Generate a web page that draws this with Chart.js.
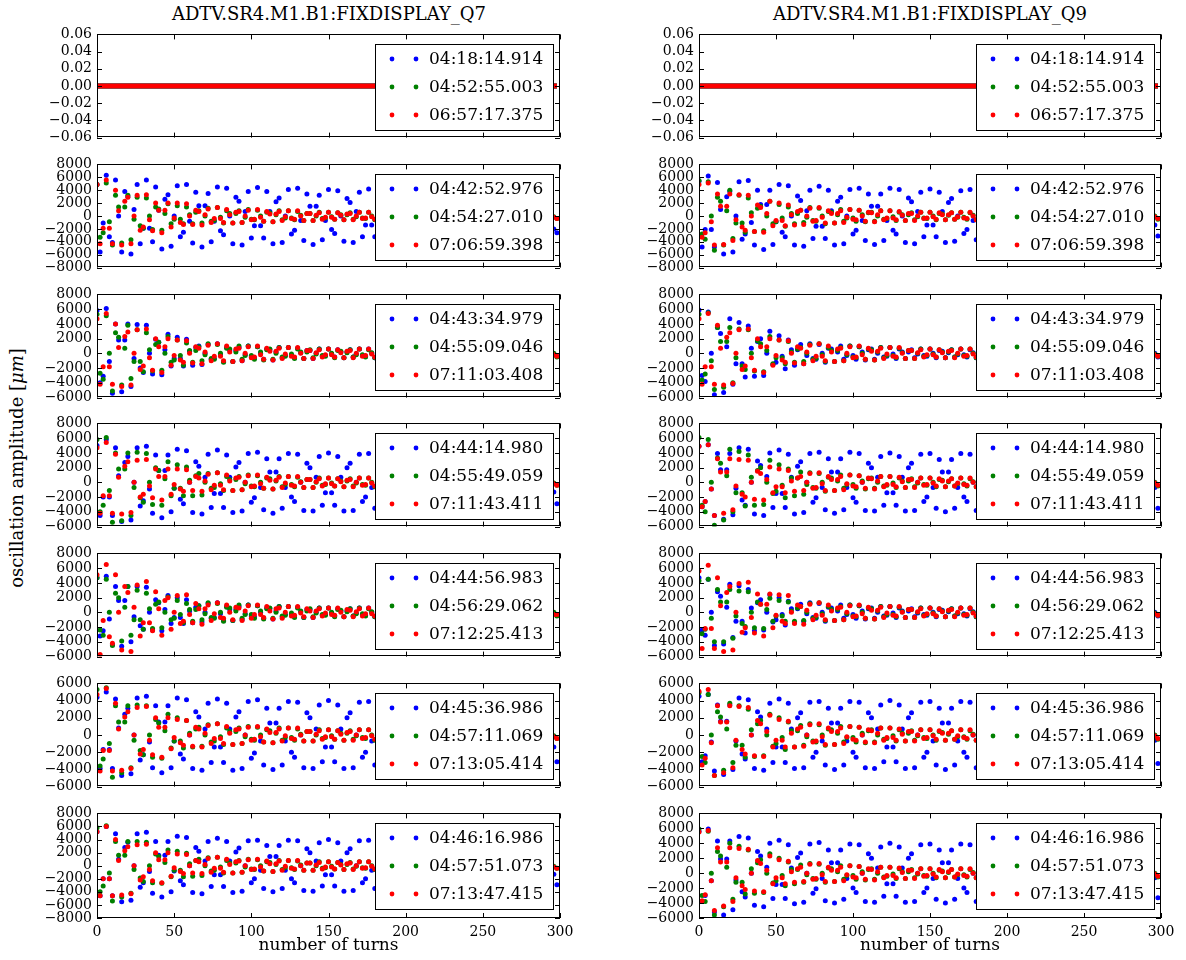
<!DOCTYPE html>
<html lang="en">
<head>
<meta charset="UTF-8">
<title>FIXDISPLAY Q7 / Q9 turn-by-turn oscillation</title>
<script src="https://cdn.jsdelivr.net/npm/chart.js"></script>
<style>
  body { margin: 0; background: #fff; }
  #page { position: relative; width: 1186px; height: 960px; overflow: hidden; font-family: 'DejaVu Serif', serif; color: #000; }
  .panel { position: absolute; }
  .panel canvas { display: block; }
  .coltitle { position: absolute; top: 3px; font-size: 18px; white-space: nowrap; transform: translateX(-50%); }
  #ylabel {
    position: absolute; left: 16px; top: 468px;
    transform: translate(-50%, -50%) rotate(-90deg);
    white-space: nowrap; font-size: 18px;
  }
</style>
</head>
<body>
<div id="page">
  <div class="coltitle" style="left:329px">ADTV.SR4.M1.B1:FIXDISPLAY_Q7</div>
  <div class="coltitle" style="left:930px">ADTV.SR4.M1.B1:FIXDISPLAY_Q9</div>
  <div id="ylabel">oscillation amplitude [<i>μm</i>]</div>
</div>

<script>
// turn number of every stored sample (every second turn)
const turns = [0,2,4,6,8,10,12,14,16,18,20,22,24,26,28,30,32,34,36,38,40,42,44,46,48,50,52,54,56,58,
  60,62,64,66,68,70,72,74,76,78,80,82,84,86,88,90,92,94,96,98,100,102,104,106,108,110,112,114,116,118,
  120,122,124,126,128,130,132,134,136,138,140,142,144,146,148,150,152,154,156,158,160,162,164,166,168,170,172,174,176,178,
  180,182,184,186,188,190,192,194,196,198,200,202,204,206,208,210,212,214,216,218,220,222,224,226,228,230,232,234,236,238,
  240,242,244,246,248,250,252,254,256,258,260,262,264,266,268,270,272,274,276,278,280,282,284,286,288,290,292,294,296,298];

// amplitudes are stored in units of 100 µm
const SCALE = 100;

// reference shots: no kick, the BPM reads zero on every turn
const flatTrace = [0,0,0,0,0,0,0,0,0,0,0,0,0,0,0,0,0,0,0,0,0,0,0,0,0,0,0,0,0,0,
  0,0,0,0,0,0,0,0,0,0,0,0,0,0,0,0,0,0,0,0,0,0,0,0,0,0,0,0,0,0,
  0,0,0,0,0,0,0,0,0,0,0,0,0,0,0,0,0,0,0,0,0,0,0,0,0,0,0,0,0,0,
  0,0,0,0,0,0,0,0,0,0,0,0,0,0,0,0,0,0,0,0,0,0,0,0,0,0,0,0,0,0,
  0,0,0,0,0,0,0,0,0,0,0,0,0,0,0,0,0,0,0,0,0,0,0,0,0,0,0,0,0,0];

// slow tail of the decoherence, turns 72..142, for the four phase families P/Q/R/S
const decayP = [13,-7,-8,12,0,-12, 7,6,-11,2,10,-8, -3,10,-3,-8,9,2, -9,5,6,-8,0,8, -5,-4,8,-1,-7,6, 2,-7,2,5,-6,-1];
const decayQ = [12,-8,-7,13,-2,-11, 8,4,-11,4,8,-10, -2,10,-5,-6,9,0, -8,6,5,-9,2,8, -6,-3,8,-3,-6,7, 1,-7,4,4,-7,0];
const decayR = [11,-10,-4,13,-4,-10, 10,2,-11,6,7,-10, 0,9,-6,-5,10,-2, -8,7,3,-9,3,7, -7,-1,8,-4,-5,8, 0,-7,4,4,-7,1];
const decayS = [10,-11,-2,13,-7,-8, 10,0,-10,7,6,-11, 2,9,-8,-3,10,-3, -7,8,2,-9,5,6, -8,0,8,-5,-4,8, -1,-6,5,2,-7,2];

// residual wiggle once the kicked beam has decohered, turns 144..298
const residualP = [6,-3,-4,6,0,-6, 4,3,-6,1,5,-5, -2,6,-2,-5,5,1, -6,3,4,-6,0,6, -4,-3,6,-1,-5,5, 2,-6,2,5,-5,-1,
  5,-3,-3,5,0,-5, 3,3,-5,1,4,-4, -2,5,-2,-4,4,1, -5,3,3,-5,0,5, -3,-3,5,-1,-4,4, 2,-5,2,4,-4,-1,
  5,-3,-3,5,0,-5];
const residualQ = [6,-4,-3,6,-1,-5, 5,2,-6,2,5,-5, -1,6,-3,-4,6,0, -6,4,3,-6,1,5, -5,-2,6,-2,-5,5, 1,-6,3,4,-6,0,
  5,-3,-3,5,-1,-4, 4,2,-5,2,4,-4, -1,5,-3,-3,5,0, -5,3,3,-5,1,4, -4,-2,5,-2,-4,4, 1,-5,3,3,-5,0,
  5,-3,-3,5,-1,-4];
const residualR = [5,-5,-2,6,-2,-5, 5,1,-6,3,4,-6, 0,6,-4,-3,6,-1, -5,5,2,-6,2,5, -5,-1,6,-3,-4,6, 0,-6,4,3,-6,1,
  4,-4,-2,5,-2,-4, 4,1,-5,3,3,-5, 0,5,-3,-3,5,-1, -4,4,2,-5,2,4, -4,-1,5,-3,-3,5, 0,-5,3,3,-5,1,
  4,-4,-2,5,-2,-4];
const residualS = [5,-5,-1,6,-3,-4, 6,0,-6,4,3,-6, 1,5,-5,-2,6,-2, -5,5,1,-6,3,4, -6,0,6,-4,-3,6, -1,-5,5,2,-6,2,
  4,-4,-1,5,-3,-3, 5,0,-5,3,3,-5, 1,4,-4,-2,5,-2, -4,4,1,-5,3,3, -5,0,5,-3,-3,5, -1,-4,4,2,-5,2,
  4,-4,-1,5,-3,-3];

// ---- Q7 ----
const q7r2Blue = [49,-56,-11,63,-32,-41, 56,0,-56,38,30,-59, 10,49,-43,-19,56,-19, -40,45,9,-51,26,33, -47,0,47,-32,-25,49, -8,-42,37,16,-48,16,
  35,-40,-8,45,-23,-29, 43,0,-43,29,23,-45, 7,38,-34,-15,44,-15, -34,38,7,-43,22,28, -41,0,41,-28,-22,43, -7,-38,34,15,-44,15,
  32,-37,-7,41,-21,-27, 39,0,-39,27,21,-41, 7,37,-32,-14,42,-14, -32,37,7,-41,21,27, -39,0,39,-27,-21,41, -7,-37,32,14,-42,14,
  32,-37,-7,41,-21,-27, 39,0,-39,27,21,-41, 7,37,-32,-14,42,-14, -31,35,7,-39,20,26, -38,0,38,-26,-20,39, -7,-35,31,14,-40,14,
  31,-35,-7,39,-20,-26];
const q7r2Green = [49,-33,-26,51,-9,-45, 32,14,-42,14,32,-37, -5,29,-15,-19,28,0, -21,14,11,-22,4,19, -12,-5,16,-5,-12,14, 2,-12,6,8,-11,0,
  ...decayQ, ...residualQ];
const q7r2Red = [49,-43,-19,56,-19,-43, 40,8,-45,23,29,-43, 0,32,-22,-17,33,-6, -23,20,9,-26,9,20, -17,-3,20,-10,-13,19, 0,-13,9,7,-14,2,
  ...decayR, ...residualR];

const q7r3Blue = [58,-40,-31,61,-11,-54, 40,18,-52,18,40,-45, -7,39,-20,-26,38,0, -28,19,15,-29,5,26, -17,-7,22,-7,-17,19, 3,-16,8,10,-15,0,
  ...decayQ, ...residualQ];
const q7r3Green = [53,-27,-35,51,0,-51, 28,22,-43,7,38,-34, -11,32,-11,-25,28,5, -24,12,15,-23,0,23, -12,-9,18,-3,-16,14, 4,-12,4,9,-10,-2,
  ...decayP, ...residualP];
const q7r3Red = [47,-42,-18,54,-18,-42, 40,8,-45,23,29,-43, 0,32,-22,-17,33,-6, -23,20,9,-26,9,20, -16,-3,18,-9,-12,17, 0,-13,9,7,-14,2,
  ...decayR, ...residualR];

const q7r4Blue = [50,-45,-20,58,-20,-45, 47,9,-53,27,35,-51, 0,47,-32,-25,49,-9, -42,37,16,-48,16,37, -40,-8,45,-23,-29,43, 0,-41,28,22,-43,7,
  38,-34,-15,44,-15,-34, 37,7,-41,21,27,-39, 0,39,-27,-21,41,-7, -37,32,14,-42,14,32, -35,-7,39,-20,-26,38, 0,-38,26,20,-39,7,
  35,-31,-14,40,-14,-31, 35,7,-39,20,26,-38, 0,38,-26,-20,39,-7, -35,31,14,-40,14,31, -35,-7,39,-20,-26,38, 0,-38,26,20,-39,7,
  33,-29,-13,38,-13,-29, 33,6,-37,19,24,-36, 0,36,-24,-19,37,-6, -33,29,13,-38,13,29, -33,-6,37,-19,-24,36, 0,-36,24,19,-37,6,
  33,-29,-13,38,-13,-29];
const q7r4Green = [58,-40,-31,61,-11,-54, 40,18,-52,18,40,-45, -7,41,-21,-27,39,0, -30,20,16,-31,5,28, -18,-8,24,-8,-18,21, 3,-18,9,12,-17,0,
  ...decayQ, ...residualQ];
const q7r4Red = [47,-42,-18,54,-18,-42, 38,7,-43,22,28,-41, 0,30,-20,-16,31,-5, -21,18,8,-24,8,18, -16,-3,18,-9,-12,17, 0,-11,8,6,-12,2,
  ...decayR, ...residualR];

const q7r5Blue = [47,-32,-25,49,-9,-44, 35,16,-46,16,35,-40, -6,35,-18,-23,34,0, -24,17,13,-25,4,23, -15,-7,20,-7,-15,17, 2,-14,7,9,-13,0,
  ...decayQ, ...residualQ];
const q7r5Green = [47,-24,-31,45,0,-45, 26,20,-39,7,35,-31, -10,30,-10,-23,26,5, -22,11,14,-21,0,21, -10,-8,16,-3,-14,12, 4,-12,4,9,-10,-2,
  ...decayP, ...residualP];
const q7r5Red = [51,-57,-11,65,-33,-42, 51,0,-51,35,27,-53, 7,37,-32,-14,42,-14, -25,28,5,-31,16,20, -23,0,23,-15,-12,24, -3,-14,12,5,-16,5,
  ...decayS, ...residualS];

const q7r6Blue = [44,-39,-17,50,-17,-39, 42,8,-47,24,31,-45, 0,43,-29,-23,45,-8, -38,34,15,-44,15,34, -38,-7,43,-22,-28,41, 0,-39,27,21,-41,7,
  37,-32,-14,42,-14,-32, 37,7,-41,21,27,-39, 0,39,-27,-21,41,-7, -35,31,14,-40,14,31, -35,-7,39,-20,-26,38, 0,-38,26,20,-39,7,
  35,-31,-14,40,-14,-31, 35,7,-39,20,26,-38, 0,38,-26,-20,39,-7, -35,31,14,-40,14,31, -35,-7,39,-20,-26,38, 0,-38,26,20,-39,7,
  35,-31,-14,40,-14,-31, 35,7,-39,20,26,-38, 0,38,-26,-20,39,-7, -35,31,14,-40,14,31, -35,-7,39,-20,-26,38, 0,-38,26,20,-39,7,
  35,-31,-14,40,-14,-31];
const q7r6Green = [53,-36,-28,55,-10,-49, 34,15,-44,15,34,-38, -6,35,-18,-23,34,0, -26,18,14,-27,5,24, -15,-7,20,-7,-15,17, 2,-14,7,9,-13,0,
  ...decayQ, ...residualQ];
const q7r6Red = [47,-42,-18,54,-18,-42, 37,7,-41,21,27,-39, 0,32,-22,-17,33,-6, -23,20,9,-26,9,20, -16,-3,18,-9,-12,17, 0,-13,9,7,-14,2,
  ...decayR, ...residualR];

const q7r7Blue = [52,-46,-20,60,-20,-46, 49,10,-55,28,36,-53, 0,49,-33,-26,51,-9, -42,37,16,-48,16,37, -40,-8,45,-23,-29,43, 0,-41,28,22,-43,7,
  37,-32,-14,42,-14,-32, 37,7,-41,21,27,-39, 0,38,-26,-20,39,-7, -35,31,14,-40,14,31, -35,-7,39,-20,-26,38, 0,-38,26,20,-39,7,
  35,-31,-14,40,-14,-31, 35,7,-39,20,26,-38, 0,38,-26,-20,39,-7, -35,31,14,-40,14,31, -35,-7,39,-20,-26,38, 0,-36,24,19,-37,6,
  33,-29,-13,38,-13,-29, 33,6,-37,19,24,-36, 0,36,-24,-19,37,-6, -33,29,13,-38,13,29, -33,-6,37,-19,-24,36, 0,-36,24,19,-37,6,
  33,-29,-13,38,-13,-29];
const q7r7Green = [58,-40,-31,61,-11,-54, 37,16,-48,16,37,-42, -6,37,-19,-24,36,0, -26,18,14,-27,5,24, -17,-7,22,-7,-17,19, 3,-16,8,10,-15,0,
  ...decayQ, ...residualQ];
const q7r7Red = [52,-46,-20,60,-20,-46, 40,8,-45,23,29,-43, 0,32,-22,-17,33,-6, -23,20,9,-26,9,20, -16,-3,18,-9,-12,17, 0,-11,8,6,-12,2,
  ...decayR, ...residualR];

// ---- Q9 ----
const q9r2Blue = [54,-48,-21,62,-21,-48, 52,10,-59,30,38,-56, 0,53,-36,-28,55,-10, -45,40,18,-52,18,40, -44,-9,49,-25,-32,47, 0,-45,31,24,-47,8,
  40,-35,-16,46,-16,-35, 40,8,-45,23,29,-43, 0,41,-28,-22,43,-7, -38,34,15,-44,15,34, -38,-7,43,-22,-28,41, 0,-41,28,22,-43,7,
  37,-32,-14,42,-14,-32, 37,7,-41,21,27,-39, 0,39,-27,-21,41,-7, -37,32,14,-42,14,32, -37,-7,41,-21,-27,39, 0,-39,27,21,-41,7,
  37,-32,-14,42,-14,-32, 37,7,-41,21,27,-39, 0,39,-27,-21,41,-7, -35,31,14,-40,14,31, -35,-7,39,-20,-26,38, 0,-38,26,20,-39,7,
  35,-31,-14,40,-14,-31];
const q9r2Green = [55,-28,-36,53,0,-53, 29,23,-45,8,40,-35, -11,32,-11,-25,28,5, -24,12,15,-23,0,23, -12,-9,18,-3,-16,14, 4,-12,4,9,-10,-2,
  ...decayP, ...residualP];
const q9r2Red = [49,-33,-26,51,-9,-45, 34,15,-44,15,34,-38, -6,33,-17,-22,32,0, -24,17,13,-25,4,23, -15,-7,20,-7,-15,17, 2,-14,7,9,-13,0,
  ...decayQ, ...residualQ];

const q9r3Blue = [59,-30,-38,56,0,-56, 35,27,-53,9,47,-42, -14,42,-14,-32,37,7, -31,16,20,-30,0,30, -15,-12,24,-4,-21,18, 5,-16,5,12,-14,-3,
  ...decayP, ...residualP];
const q9r3Green = [53,-36,-28,55,-10,-49, 35,16,-46,16,35,-40, -6,33,-17,-22,32,0, -24,17,13,-25,4,23, -14,-6,18,-6,-14,16, 2,-12,6,8,-11,0,
  ...decayQ, ...residualQ];
const q9r3Red = [47,-42,-18,54,-18,-42, 38,7,-43,22,28,-41, 0,32,-22,-17,33,-6, -23,20,9,-26,9,20, -16,-3,18,-9,-12,17, 0,-13,9,7,-14,2,
  ...decayR, ...residualR];

const q9r4Blue = [49,-33,-26,51,-9,-45, 39,17,-50,17,39,-44, -8,47,-24,-31,45,0, -43,29,23,-45,8,40, -34,-15,44,-15,-34,38, 7,-43,22,28,-41,0,
  39,-27,-21,41,-7,-37, 32,14,-42,14,32,-37, -7,41,-21,-27,39,0, -38,26,20,-39,7,35, -31,-14,40,-14,-31,35, 7,-39,20,26,-38,0,
  38,-26,-20,39,-7,-35, 31,14,-40,14,31,-35, -7,39,-20,-26,38,0, -38,26,20,-39,7,35, -31,-14,40,-14,-31,35, 7,-39,20,26,-38,0,
  38,-26,-20,39,-7,-35, 31,14,-40,14,31,-35, -7,39,-20,-26,38,0, -38,26,20,-39,7,35, -31,-14,40,-14,-31,35, 7,-39,20,26,-38,0,
  38,-26,-20,39,-7,-35];
const q9r4Green = [61,-31,-40,58,0,-58, 33,26,-51,9,45,-40, -14,42,-14,-32,37,7, -31,16,20,-30,0,30, -15,-12,24,-4,-21,18, 6,-18,6,14,-16,-3,
  ...decayP, ...residualP];
const q9r4Red = [49,-33,-26,51,-9,-45, 32,14,-42,14,32,-37, -5,31,-16,-20,30,0, -23,15,12,-24,4,21, -14,-6,18,-6,-14,16, 2,-12,6,8,-11,0,
  ...decayQ, ...residualQ];

const q9r5Blue = [47,-24,-31,45,0,-45, 28,22,-43,7,38,-34, -12,36,-12,-28,31,6, -25,13,17,-24,0,24, -13,-10,20,-3,-17,15, 5,-14,5,11,-12,-2,
  ...decayP, ...residualP];
const q9r5Green = [43,-29,-23,45,-8,-40, 31,14,-40,14,31,-35, -5,29,-15,-19,28,0, -21,14,11,-22,4,19, -12,-5,16,-5,-12,14, 2,-12,6,8,-11,0,
  ...decayQ, ...residualQ];
const q9r5Red = [56,-49,-22,64,-22,-49, 47,9,-53,27,35,-51, 0,39,-27,-21,41,-7, -28,25,11,-32,11,25, -21,-4,24,-12,-15,23, 0,-15,10,8,-16,3,
  ...decayR, ...residualR];

const q9r6Blue = [45,-31,-24,47,-8,-42, 35,16,-46,16,35,-40, -7,43,-22,-28,41,0, -39,27,21,-41,7,37, -32,-14,42,-14,-32,37, 7,-39,20,26,-38,0,
  38,-26,-20,39,-7,-35, 31,14,-40,14,31,-35, -7,39,-20,-26,38,0, -38,26,20,-39,7,35, -31,-14,40,-14,-31,35, 7,-39,20,26,-38,0,
  38,-26,-20,39,-7,-35, 31,14,-40,14,31,-35, -7,39,-20,-26,38,0, -38,26,20,-39,7,35, -31,-14,40,-14,-31,35, 7,-39,20,26,-38,0,
  36,-24,-19,37,-6,-33, 29,13,-38,13,29,-33, -6,37,-19,-24,36,0, -36,24,19,-37,6,33, -29,-13,38,-13,-29,33, 6,-37,19,24,-36,0,
  36,-24,-19,37,-6,-33];
const q9r6Green = [49,-25,-32,47,0,-47, 27,21,-41,7,37,-32, -12,34,-12,-26,30,6, -25,13,17,-24,0,24, -13,-10,20,-3,-17,15, 5,-14,5,11,-12,-2,
  ...decayP, ...residualP];
const q9r6Red = [51,-35,-27,53,-9,-47, 34,15,-44,15,34,-38, -6,33,-17,-22,32,0, -24,17,13,-25,4,23, -14,-6,18,-6,-14,16, 2,-14,7,9,-13,0,
  ...decayQ, ...residualQ];

const q9r7Blue = [56,-38,-30,59,-10,-52, 43,19,-56,19,43,-49, -9,49,-25,-32,47,0, -43,29,23,-45,8,40, -34,-15,44,-15,-34,38, 7,-41,21,27,-39,0,
  39,-27,-21,41,-7,-37, 31,14,-40,14,31,-35, -7,39,-20,-26,38,0, -38,26,20,-39,7,35, -31,-14,40,-14,-31,35, 7,-39,20,26,-38,0,
  38,-26,-20,39,-7,-35, 31,14,-40,14,31,-35, -7,39,-20,-26,38,0, -38,26,20,-39,7,35, -31,-14,40,-14,-31,35, 6,-37,19,24,-36,0,
  36,-24,-19,37,-6,-33, 29,13,-38,13,29,-33, -6,37,-19,-24,36,0, -36,24,19,-37,6,33, -29,-13,38,-13,-29,33, 6,-37,19,24,-36,0,
  36,-24,-19,37,-6,-33];
const q9r7Green = [59,-30,-38,56,0,-56, 29,23,-45,8,40,-35, -12,36,-12,-28,31,6, -27,14,18,-26,0,26, -13,-10,20,-3,-17,15, 5,-14,5,11,-12,-2,
  ...decayP, ...residualP];
const q9r7Red = [55,-37,-29,57,-10,-50, 34,15,-44,15,34,-38, -6,33,-17,-22,32,0, -24,17,13,-25,4,23, -14,-6,18,-6,-14,16, 2,-12,6,8,-11,0,
  ...decayQ, ...residualQ];

// acquisition time stamps (legend), same shots on both monitors
const stamps = [
  ['04:18:14.914', '04:52:55.003', '06:57:17.375'],
  ['04:42:52.976', '04:54:27.010', '07:06:59.398'],
  ['04:43:34.979', '04:55:09.046', '07:11:03.408'],
  ['04:44:14.980', '04:55:49.059', '07:11:43.411'],
  ['04:44:56.983', '04:56:29.062', '07:12:25.413'],
  ['04:45:36.986', '04:57:11.069', '07:13:05.414'],
  ['04:46:16.986', '04:57:51.073', '07:13:47.415']
];

// y ranges per row
const q7Ranges = [[-0.06, 0.06], [-8000, 8000], [-6000, 8000], [-6000, 8000], [-6000, 8000], [-6000, 6000], [-8000, 8000]];
const q9Ranges = [[-0.06, 0.06], [-8000, 8000], [-6000, 8000], [-6000, 8000], [-6000, 8000], [-6000, 6000], [-6000, 8000]];

const q7Traces = [
  [flatTrace, flatTrace, flatTrace],
  [q7r2Blue, q7r2Green, q7r2Red],
  [q7r3Blue, q7r3Green, q7r3Red],
  [q7r4Blue, q7r4Green, q7r4Red],
  [q7r5Blue, q7r5Green, q7r5Red],
  [q7r6Blue, q7r6Green, q7r6Red],
  [q7r7Blue, q7r7Green, q7r7Red]
];
const q9Traces = [
  [flatTrace, flatTrace, flatTrace],
  [q9r2Blue, q9r2Green, q9r2Red],
  [q9r3Blue, q9r3Green, q9r3Red],
  [q9r4Blue, q9r4Green, q9r4Red],
  [q9r5Blue, q9r5Green, q9r5Red],
  [q9r6Blue, q9r6Green, q9r6Red],
  [q9r7Blue, q9r7Green, q9r7Red]
];

const COLORS = ['#0000ff', '#008000', '#ff0000'];
const X_TICKS = [0, 50, 100, 150, 200, 250, 300];
const PLOT_TOPS = [33, 163, 293, 422, 552, 682, 812];
const PLOT_H = 106;
const FONT = 'DejaVu Serif';

const columns = [
  { left: 0, width: 580, axis: 97, padRight: 20, traces: q7Traces, ranges: q7Ranges },
  { left: 600, width: 586, axis: 99, padRight: 25, traces: q9Traces, ranges: q9Ranges }
];

Chart.defaults.font.family = FONT;
Chart.defaults.color = '#000';

// axes frame, inward ticks on all four sides, and the boxed legend in the upper right
const framePlugin = {
  id: 'frame',
  afterDatasetsDraw(chart, args, opts) {
    const { ctx, chartArea: a, scales: { x, y } } = chart;
    const t = 5;
    ctx.save();
    ctx.strokeStyle = '#000';
    ctx.lineWidth = 1;
    ctx.beginPath();
    X_TICKS.forEach(v => {
      const px = Math.round(x.getPixelForValue(v)) + 0.5;
      ctx.moveTo(px, a.bottom); ctx.lineTo(px, a.bottom - t);
      ctx.moveTo(px, a.top); ctx.lineTo(px, a.top + t);
    });
    y.ticks.forEach(tk => {
      const py = Math.round(y.getPixelForValue(tk.value)) + 0.5;
      ctx.moveTo(a.left, py); ctx.lineTo(a.left + t, py);
      ctx.moveTo(a.right, py); ctx.lineTo(a.right - t, py);
    });
    ctx.stroke();
    ctx.strokeRect(Math.round(a.left) + 0.5, Math.round(a.top) + 0.5,
                   Math.round(a.width) - 1, Math.round(a.height) - 1);

    // legend
    const bw = 178, bh = 86;
    const bx = Math.round(a.right) - 7 - bw;
    const by = Math.round(a.top) + 10;
    ctx.fillStyle = '#fff';
    ctx.fillRect(bx, by, bw, bh);
    ctx.strokeRect(bx + 0.5, by + 0.5, bw, bh);
    ctx.font = '17px "' + FONT + '"';
    ctx.textBaseline = 'middle';
    opts.labels.forEach((lab, i) => {
      const cy = by + 15 + i * 28;
      ctx.fillStyle = COLORS[i];
      [17, 41].forEach(dx => {
        ctx.beginPath();
        ctx.arc(bx + dx, cy, 2.4, 0, Math.PI * 2);
        ctx.fill();
      });
      ctx.fillStyle = '#000';
      ctx.fillText(lab, bx + 54, cy + 1);
    });
    ctx.restore();
  }
};

function tickText(v, row) {
  const s = row === 0 ? Math.abs(v).toFixed(2) : String(Math.abs(v));
  return v < 0 ? '\u2212' + s : s;
}

const page = document.getElementById('page');

columns.forEach(col => {
  PLOT_TOPS.forEach((plotTop, row) => {
    const last = row === PLOT_TOPS.length - 1;
    const flat = row === 0;
    const top = plotTop - 12;
    const bottom = last ? 960 : plotTop + PLOT_H + 12;

    const box = document.createElement('div');
    box.className = 'panel';
    box.style.left = col.left + 'px';
    box.style.top = top + 'px';
    const canvas = document.createElement('canvas');
    canvas.width = col.width;
    canvas.height = bottom - top;
    box.appendChild(canvas);
    page.appendChild(box);

    const [ymin, ymax] = col.ranges[row];
    // the un-kicked shots sit on zero every turn: the dots merge into a solid band
    const datasets = col.traces[row].map((vals, i) => ({
      label: stamps[row][i],
      data: turns.map((t, k) => ({ x: t, y: vals[k] * SCALE })),
      backgroundColor: COLORS[i],
      borderColor: COLORS[i],
      showLine: flat,
      borderWidth: flat ? 5 : 0,
      pointRadius: flat ? 0 : 2.5,
      pointHoverRadius: flat ? 0 : 2.5,
      pointBorderWidth: 0,
      order: 2 - i,   // red ends up on top
      clip: 0
    }));

    const xScale = {
      type: 'linear',
      min: 0, max: 300,
      display: last,
      grid: { display: false, drawTicks: false },
      border: { display: false },
      ticks: { stepSize: 50, autoSkip: false, maxRotation: 0, padding: 6, color: '#000', font: { family: FONT, size: 14 } },
      title: { display: last, text: 'number of turns', color: '#000', font: { family: FONT, size: 17 }, padding: { top: 0, bottom: 4 } }
    };
    if (last) xScale.afterFit = s => { s.height = 960 - (plotTop + PLOT_H); };

    new Chart(canvas, {
      type: 'scatter',
      data: { datasets },
      options: {
        responsive: false,
        animation: false,
        events: [],
        devicePixelRatio: 1,
        layout: { padding: { top: 12, bottom: last ? 0 : 12, left: 0, right: col.padRight } },
        plugins: {
          legend: { display: false },
          tooltip: { enabled: false },
          title: { display: false },
          frame: { labels: stamps[row] }
        },
        scales: {
          x: xScale,
          y: {
            type: 'linear',
            min: ymin, max: ymax,
            grid: { display: false, drawTicks: false },
            border: { display: false },
            ticks: {
              stepSize: row === 0 ? 0.02 : 2000,
              autoSkip: false,
              padding: 5,
              color: '#000',
              font: { family: FONT, size: 14 },
              callback: v => tickText(v, row)
            },
            afterFit: s => { s.width = col.axis; }
          }
        }
      },
      plugins: [framePlugin]
    });
  });
});
</script>
</body>
</html>
